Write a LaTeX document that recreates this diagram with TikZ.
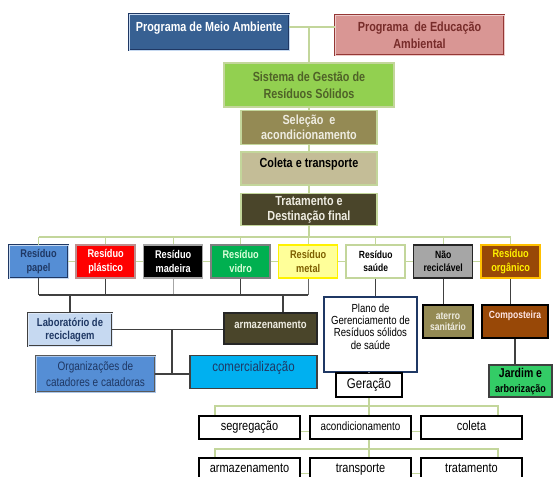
\documentclass[tikz,border=0pt]{standalone}
\usepackage{fontspec}
\setmainfont{Liberation Sans}[FakeStretch=0.82]
\usetikzlibrary{positioning}

\definecolor{azulescuro}{HTML}{376092}
\definecolor{marinho}{HTML}{1F3864}
\definecolor{rosa}{HTML}{D99694}
\definecolor{vinho}{HTML}{953735}
\definecolor{verdeclaro}{HTML}{92D050}
\definecolor{verdetexto}{HTML}{4F6228}
\definecolor{oliva}{HTML}{C3D69B}
\definecolor{oliveira}{HTML}{948A54}
\definecolor{bege}{HTML}{C4BD97}
\definecolor{marrom}{HTML}{4A452A}
\definecolor{azulmedio}{HTML}{558ED5}
\definecolor{verde}{HTML}{00B050}
\definecolor{amarelo}{HTML}{FFFF99}
\definecolor{ocre}{HTML}{7F6000}
\definecolor{cinza}{HTML}{A6A6A6}
\definecolor{telha}{HTML}{984807}
\definecolor{ouro}{HTML}{FFC000}
\definecolor{azulclaro}{HTML}{C6D9F1}
\definecolor{ciano}{HTML}{00B0F0}
\definecolor{grama}{HTML}{33CC66}
\definecolor{creme}{HTML}{EEECE1}

\newcommand{\tam}[2]{\fontsize{#1pt}{#2pt}\selectfont}

\begin{document}
\begin{tikzpicture}[
  x=1pt, y=-1pt,
  node distance=7pt,
  caixa/.style={rectangle, draw, line width=1.5pt, align=center, inner sep=1pt},
  duplo/.style={double=#1, double distance=0.6pt, line width=0.9pt},
  etapa/.style={caixa, draw=oliva, minimum width=136pt, font=\bfseries\tam{13.2}{15}},
  residuo/.style={caixa, minimum width=59pt, minimum height=33pt, font=\bfseries\tam{11.2}{14}},
  fase/.style={caixa, draw=black, line width=2pt, minimum width=101pt, minimum height=23pt,
               text height=9.5pt, text depth=3pt, font=\tam{13.4}{13}},
  fio/.style={line width=1.4pt, oliva},
  fioesc/.style={line width=1.4pt, black!75}
]
\useasboundingbox (0,0) rectangle (555,477);

% programas e sistema
\node[caixa, duplo=azulclaro, draw=marinho, fill=azulescuro, minimum width=160pt, minimum height=36pt,
      text=white, font=\bfseries\tam{13.2}{17}, text height=10pt, text depth=10.5pt] (meio) at (209,32) {Programa de Meio Ambiente};
\node[caixa, duplo=rosa!50!white, draw=vinho, fill=rosa, minimum width=169pt, minimum height=40pt,
      text=vinho!80!black, font=\bfseries\tam{13.2}{17}] (educacao) at (419.5,35) {Programa~ de Educação\\Ambiental};
\node[caixa, draw=oliva, fill=verdeclaro, minimum width=170pt, minimum height=44pt,
      text=verdetexto, font=\bfseries\tam{13.2}{17}] (sistema) at (309,85) {Sistema de Gestão de\\Resíduos Sólidos};

\node[etapa, fill=oliveira, text=creme, minimum height=34pt, below=2pt of sistema] (selecao) {Seleção~ e\\acondicionamento};
\node[etapa, fill=bege, minimum height=33pt, text height=10pt, text depth=11.5pt, below=6pt of selecao] (coleta) {Coleta e transporte};
\node[etapa, fill=marrom, text=creme, minimum height=32pt, below=7pt of coleta] (tratamento) {Tratamento e\\Destinação final};

% tipos de resíduo
\node[residuo, duplo=azulclaro, draw=marinho, fill=azulmedio, text=marinho] (papel) at (38.5,261.5) {Resíduo\\papel};
\node[residuo, draw=rosa!70!gray, fill=red, text=white, right=of papel] (plastico) {Resíduo\\plástico};
\node[residuo, draw=cinza, fill=black, text=white, right=of plastico] (madeira) {Resíduo\\madeira};
\node[residuo, draw=black!50, fill=verde, text=green!15!white, right=of madeira] (vidro) {Resíduo\\vidro};
\node[residuo, draw=yellow, fill=amarelo, text=ocre, right=of vidro] (metal) {Resíduo\\metal};
\node[residuo, draw=oliva, fill=white, font=\bfseries\tam{10.4}{13}, right=of metal] (saude) {Resíduo\\saúde};
\node[residuo, draw=black!85, fill=cinza, font=\bfseries\tam{10.5}{13}, right=of saude] (naorec) {Não\\reciclável};
\node[residuo, draw=ouro, fill=telha, text=yellow, right=of naorec] (organico) {Resíduo\\orgânico};

% destinos
\node[caixa, duplo=azulclaro!60!white, draw=black!75, fill=azulclaro, minimum width=84pt, minimum height=33pt,
      text=marinho, font=\bfseries\tam{11.5}{13}] (laboratorio) at (70,329.5) {Laboratório de\\reciclagem};
\node[caixa, draw=black!85, fill=marrom, minimum width=93pt, minimum height=31pt,
      text=creme, font=\bfseries\tam{11.6}{12}, text height=9pt, text depth=8.7pt] (armazem) at (270.5,328.5) {armazenamento};
\node[caixa, duplo=azulmedio!50!white, draw=black!65, fill=azulmedio, minimum width=119pt, minimum height=36pt,
      text=marinho, font=\tam{12.2}{15.5}] (catadores) at (95.5,374) {Organizações de\\catadores e catadoras};
\node[caixa, draw=black!75, fill=ciano, minimum width=127pt, minimum height=33pt,
      text=marinho, font=\tam{14}{14}, text height=10.5pt, text depth=12.5pt] (comercio) at (253.5,372) {comercialização};
\node[caixa, draw=marinho, fill=white, minimum width=93pt, minimum height=75pt,
      font=\tam{11.7}{12.4}, text depth=16pt] (plano) at (370.5,334.5) {Plano de\\Gerenciamento de\\Resíduos sólidos\\de saúde};
\node[caixa, draw=black, line width=2pt, fill=oliveira, minimum width=50pt, minimum height=33pt,
      text=creme, font=\bfseries\tam{10.5}{11}] (aterro) at (448,321.5) {aterro\\sanitário};
\node[caixa, draw=black, line width=2pt, fill=telha, minimum width=66pt, minimum height=33pt,
      text=red!10!white, font=\bfseries\tam{10.4}{11}, text height=8pt, text depth=14.6pt] (composteira) at (515,321.5) {Composteira};
\node[caixa, draw=black!75, fill=grama, minimum width=63pt, minimum height=32pt,
      font=\bfseries\tam{12.8}{15}] (jardim) at (520.5,381) {Jardim e\\{\tam{11}{15}arborização}};

% etapas do plano de saúde
\node[fase, minimum width=66pt, minimum height=24pt, font=\tam{14}{13}] (geracao) at (369,385) {Geração};
\node[fase] (segregacao) at (249.5,427.5) {segregação};
\node[fase, font=\tam{12}{12}, right=8pt of segregacao] (acond) {acondicionamento};
\node[fase, right=8pt of acond] (coletafase) {coleta};
\node[fase, below=17pt of segregacao] (armazfase) {armazenamento};
\node[fase, below=17pt of acond] (transporte) {transporte};
\node[fase, below=17pt of coletafase] (tratfase) {tratamento};

% ligações de cima
\coordinate (topo) at (309,27);
\draw[fio] (meio.east |- topo) -- (educacao.west |- topo);
\draw[fio] (topo) -- (sistema.north);
\draw[fio] (sistema.south) -- (selecao.north);
\draw[fio] (selecao.south) -- (coleta.north);
\draw[fio] (coleta.south) -- (tratamento.north);

\coordinate (barra) at (0,237);
\draw[fio] (tratamento.south) -- (tratamento.south |- barra);
\draw[fio] (papel.north |- barra) -- (organico.north |- barra);
\foreach \r in {papel,plastico,madeira,vidro,metal,saude,naorec,organico}
  \draw[fio] (\r.north |- barra) -- (\r.north);
\foreach \a/\b in {papel/plastico,plastico/madeira,madeira/vidro,vidro/metal,metal/saude,saude/naorec,naorec/organico}
  \draw[fio] (\a.east) -- (\b.west);

% recicláveis
\coordinate (barra2) at (0,295);
\foreach \r in {papel,plastico,vidro}
  \draw[fioesc] (\r.south) -- (\r.south |- barra2);
\draw[line width=1.4pt, cinza] (madeira.south) -- (madeira.south |- barra2);
\draw[line width=1.4pt, black!60] (metal.south) -- (metal.south |- barra2);
\draw[fioesc] (papel.south |- barra2) -- (metal.south |- barra2);
\draw[fioesc] (laboratorio.north |- barra2) -- (laboratorio.north);
\coordinate (desce) at (283,295);
\draw[fioesc] (desce) -- (desce |- armazem.north);
\draw[fioesc] (laboratorio.east) -- (laboratorio.east -| armazem.west);
\coordinate (ramo) at (172,329.5);
\draw[fioesc] (ramo) -- (ramo |- catadores.east);
\draw[fioesc] (catadores.east) -- (catadores.east -| comercio.west);

% saúde, não reciclável e orgânico
\draw[fioesc] (saude.south) -- (saude.south |- plano.north);
\draw[fioesc] (naorec.south) -- (naorec.south |- aterro.north);
\draw[fioesc] (organico.south) -- (organico.south |- composteira.north);
\draw[fioesc] (composteira.south) -- (composteira.south |- jardim.north);
\draw[line width=1.4pt, black!50] (geracao.north |- plano.south) -- (geracao.north);

% etapas
\coordinate (b3e) at (215,406);
\coordinate (b3d) at (498,406);
\coordinate (b4e) at (215,449);
\coordinate (b4d) at (498,449);
\draw[fio] (geracao.south) -- (geracao.south |- acond.north);
\draw[fio] (b3e |- segregacao.north) -- (b3e) -- (b3d) -- (b3d |- coletafase.north);
\draw[fio] (geracao.south |- acond.south) -- (geracao.south |- transporte.north);
\draw[fio] (b4e |- armazfase.north) -- (b4e) -- (b4d) -- (b4d |- tratfase.north);
\foreach \a/\b in {segregacao/acond,acond/coletafase,armazfase/transporte,transporte/tratfase}
  \draw[fio] ([yshift=-4pt]\a.east) -- ([yshift=-4pt]\b.west);
\end{tikzpicture}
\end{document}
